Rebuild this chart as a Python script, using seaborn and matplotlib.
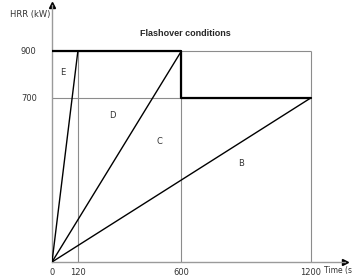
import matplotlib
matplotlib.use('Agg')
import matplotlib.pyplot as plt
import pandas as pd
import seaborn as sns

# growth lines from the origin
line_names = ['E', 'D', 'C', 'B']
line_end_time = [120, 600, 1200, 1200]
line_end_hrr = [900, 900, 900, 700]

# flashover condition curve
flash_time = [0, 600, 600, 1200]
flash_hrr = [900, 900, 700, 700]

# label positions
label_time = [51, 278, 500, 876]
label_hrr = [810, 623, 516, 422]

x_ticks = [0, 120, 600, 1200]
y_ticks = [700, 900]


def build_lines():
    rows = []
    for name, t, h in zip(line_names, line_end_time, line_end_hrr):
        if name == 'C':
            continue  # C has no line of its own, it is a region
        rows.append((name, 0, 0))
        rows.append((name, t, h))
    return pd.DataFrame(rows, columns=['curve', 'time', 'hrr'])


def plot():
    sns.set_style('white')
    fig = plt.figure(figsize=(3.53, 2.80), dpi=100)
    ax = fig.add_axes([52 / 353, 18 / 280, 293 / 353, 257 / 280])
    ax.set_xlim(0, 1358)
    ax.set_ylim(0, 1096)

    grid_kw = dict(color='#8c8c8c', lw=0.8, zorder=1)
    ax.vlines(x_ticks[1:], 0, max(flash_hrr), **grid_kw)
    ax.hlines(y_ticks, 0, max(flash_time), **grid_kw)

    df = build_lines()
    sns.lineplot(data=df, x='time', y='hrr', units='curve', estimator=None, sort=False,
                 color='black', lw=1.0, ax=ax, zorder=3)
    flash = pd.DataFrame({'time': flash_time, 'hrr': flash_hrr})
    sns.lineplot(data=flash, x='time', y='hrr', estimator=None, sort=False,
                 color='black', lw=1.6, ax=ax, zorder=4)

    for name, t, h in zip(line_names, label_time, label_hrr):
        ax.text(t, h, name, fontsize=6, color='#333333', ha='center', va='center',
                family='DejaVu Sans')

    for s in ['top', 'right']:
        ax.spines[s].set_visible(False)
    for s in ['left', 'bottom']:
        ax.spines[s].set_color('#9a9a9a')
        ax.spines[s].set_linewidth(1.0)
    ax.plot(1, 0, '>k', ms=5, transform=ax.transAxes, clip_on=False)
    ax.plot(0, 1, '^k', ms=5, transform=ax.transAxes, clip_on=False)

    ax.set_xticks(x_ticks)
    ax.set_xticklabels([str(v) for v in x_ticks])
    ax.set_yticks(y_ticks)
    ax.set_yticklabels([str(v) for v in y_ticks])
    ax.tick_params(axis='both', length=0, labelsize=6, colors='#333333', pad=4)
    ax.tick_params(axis='y', pad=11)
    ax.set_xlabel('')
    ax.set_ylabel('')

    fig.text(50 / 353, 1 - 14 / 280, 'HRR (kW)', fontsize=6, color='#333333',
             ha='right', va='center')
    fig.text(352 / 353, 1 - 271 / 280, 'Time (s', fontsize=5.5, color='#333333',
             ha='right', va='center')
    fig.text(185 / 353, 1 - 33 / 280, 'Flashover conditions', fontsize=6.5,
             fontweight='bold', ha='center', va='center', family='Liberation Sans')

    fig.savefig('out.png', dpi=100)


if __name__ == '__main__':
    plot()
